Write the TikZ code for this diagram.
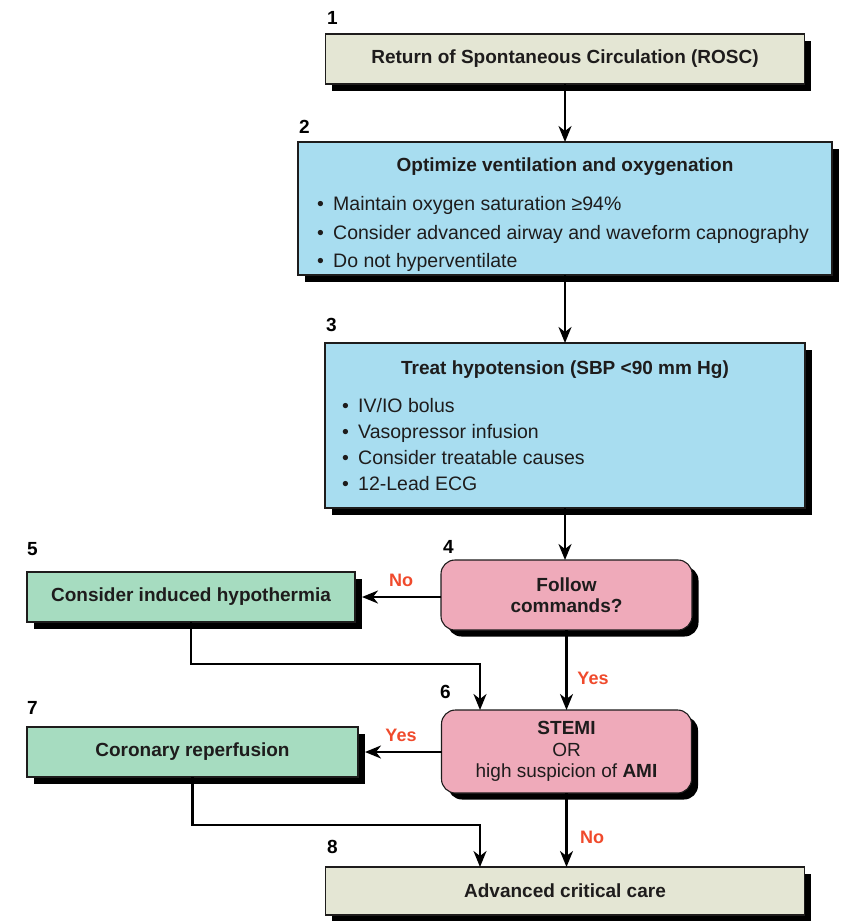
\documentclass[tikz,border=0pt]{standalone}
\usepackage{fontspec}
\setmainfont{Liberation Sans}
\usetikzlibrary{arrows.meta}
\definecolor{beigebox}{RGB}{228,230,212}
\definecolor{bluebox}{RGB}{168,221,240}
\definecolor{pinkbox}{RGB}{239,170,186}
\definecolor{greenbox}{RGB}{166,220,192}
\definecolor{redlbl}{RGB}{240,74,44}
\definecolor{ink}{RGB}{30,28,28}
\newcommand\myfs{\fontsize{19pt}{21.5pt}\selectfont}
\newcommand\mybfs{\fontsize{19.5pt}{27pt}\selectfont}
\begin{document}
\begin{tikzpicture}[x=1pt,y=-1pt,
  stepbox/.style={draw=ink, line width=1.1pt, inner sep=0pt, outer sep=0pt,
    text=ink, font=\myfs\bfseries,
    preaction={fill=black, transform canvas={xshift=6.5pt,yshift=-6.5pt}}},
  decbox/.style={stepbox, rounded corners=14pt, align=center, font=\myfs},
  title/.style={text=ink, font=\myfs\bfseries, inner sep=0pt},
  bul/.style={text=ink, font=\mybfs, inner sep=0pt, anchor=base west},
  numlbl/.style={text=black, font=\fontsize{19pt}{19pt}\selectfont\bfseries, inner sep=0pt, anchor=west},
  anslbl/.style={text=redlbl, font=\fontsize{18pt}{18pt}\selectfont\bfseries, inner sep=0pt},
  arr/.style={draw=black, line width=2.3pt, -{Stealth[length=16pt,width=13pt,inset=5pt]}},
]
\fill[white] (0,0) rectangle (849,921);
\useasboundingbox (0,0) rectangle (849,921);

% boxes
\node[stepbox, fill=beigebox, minimum width=479pt, minimum height=50pt] (b1) at (565,59) {Return of Spontaneous Circulation (ROSC)};
\node[stepbox, fill=bluebox, minimum width=534pt, minimum height=133pt] (b2) at (565,208.5) {};
\node[stepbox, fill=bluebox, minimum width=480pt, minimum height=165pt] (b3) at (565,425.5) {};
\node[decbox, fill=pinkbox, minimum width=251pt, minimum height=70pt] (n4) at (566.5,595) {\textbf{Follow}\\\textbf{commands?}};
\node[stepbox, fill=greenbox, minimum width=328pt, minimum height=50pt] (b5) at (191,597) {Consider induced hypothermia};
\node[decbox, fill=pinkbox, minimum width=250pt, minimum height=83pt] (n6) at (566.5,751.5) {\textbf{STEMI}\\OR\\high suspicion of \textbf{AMI}};
\node[stepbox, fill=greenbox, minimum width=331pt, minimum height=50pt] (b7) at (192.5,752) {Coronary reperfusion};
\node[stepbox, fill=beigebox, minimum width=479pt, minimum height=48pt] (b8) at (565,891) {Advanced critical care};

% box 2 text
\node[title] (t2) at (565,167) {Optimize ventilation and oxygenation};
\node[bul] (b2a) at (317,210) {\makebox[16pt][l]{•}Maintain oxygen saturation ≥94\%};
\node[bul] (b2b) at (317,239) {\makebox[16pt][l]{•}Consider advanced airway and waveform capnography};
\node[bul] (b2c) at (317,267) {\makebox[16pt][l]{•}Do not hyperventilate};

% box 3 text
\node[title] (t3) at (565,370) {Treat hypotension (SBP <90 mm Hg)};
\node[bul] (b3a) at (342,412) {\makebox[16pt][l]{•}IV/IO bolus};
\node[bul] (b3b) at (342,438) {\makebox[16pt][l]{•}Vasopressor infusion};
\node[bul] (b3c) at (342,464) {\makebox[16pt][l]{•}Consider treatable causes};
\node[bul] (b3d) at (342,490) {\makebox[16pt][l]{•}12-Lead ECG};

% step numbers
\node[numlbl] (l1) at (327,18) {1};
\node[numlbl] (l2) at (299,127) {2};
\node[numlbl] (l3) at (326,325) {3};
\node[numlbl] (l4) at (443,547) {4};
\node[numlbl] (l5) at (27,549) {5};
\node[numlbl] (l6) at (440,692) {6};
\node[numlbl] (l7) at (27,708) {7};
\node[numlbl] (l8) at (327,847) {8};

% answer labels
\node[anslbl] (a1) at (401,580) {No};
\node[anslbl] (a2) at (593,678) {Yes};
\node[anslbl] (a3) at (401,735) {Yes};
\node[anslbl] (a4) at (592,837) {No};

% junctions
\coordinate (j1) at (480,664);
\coordinate (j2) at (480,825);

% connectors
\draw[arr] (b1.south) -- (b2.north);
\draw[arr] (b2.south) -- (b3.north);
\draw[arr] (b3.south) -- (b3.south |- n4.north);
\draw[arr] (n4.west |- b5.east) -- ([xshift=7pt]b5.east);
\draw[arr] (n4.south) -- (n4.south |- n6.north);
\draw[arr] (b5.south) -- (b5.south |- j1) -- (j1) -- (j1 |- n6.north);
\draw[arr] (n6.west |- b7.east) -- ([xshift=7pt]b7.east);
\draw[arr] (n6.south) -- (n6.south |- b8.north);
\draw[arr] (b7.south) -- (b7.south |- j2) -- (j2) -- (j2 |- b8.north);
\end{tikzpicture}
\end{document}
